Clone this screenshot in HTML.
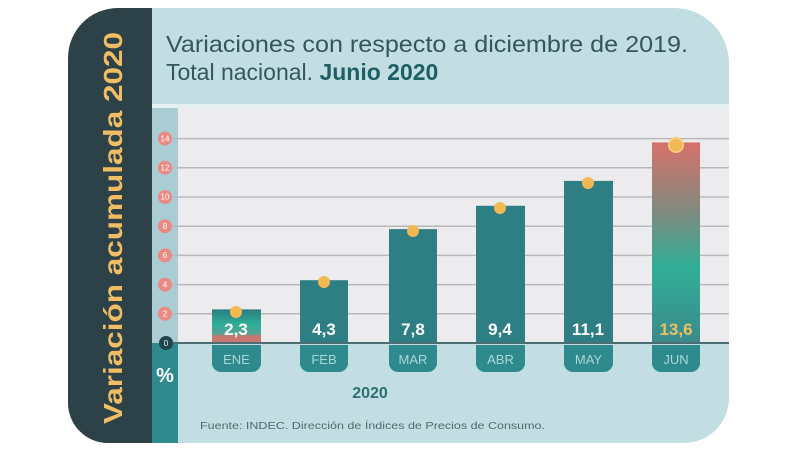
<!DOCTYPE html>
<html><head><meta charset="utf-8"><style>
html,body{margin:0;padding:0;background:#fff;}
svg{display:block;font-family:"Liberation Sans",sans-serif;}
</style></head><body>
<svg width="800" height="454" viewBox="0 0 800 454" xmlns="http://www.w3.org/2000/svg">
<defs>
<linearGradient id="gj" x1="0" y1="0" x2="0" y2="1">
<stop offset="0" stop-color="#d8716a"/>
<stop offset="0.35" stop-color="#7f8a80"/>
<stop offset="0.62" stop-color="#2fae96"/>
<stop offset="1" stop-color="#3c8a8c"/>
</linearGradient>
<linearGradient id="ge" x1="0" y1="0" x2="0" y2="1">
<stop offset="0" stop-color="#2a7d80"/>
<stop offset="0.45" stop-color="#2fae96"/>
<stop offset="0.75" stop-color="#5aa095"/>
<stop offset="0.78" stop-color="#c87870"/>
<stop offset="1" stop-color="#c87870"/>
</linearGradient>
</defs>
<path d="M140 8 H674 A55 55 0 0 1 729 63 V398 A45 45 0 0 1 684 443 H140 Z" fill="#c3dee2"/>
<rect x="152" y="108" width="577" height="235" fill="#ececee"/>
<rect x="152" y="104" width="577" height="4" fill="#e4eff1"/>
<rect x="152" y="108" width="26" height="235" fill="#a9cdd2"/>
<rect x="152" y="343" width="26" height="100" fill="#2e8a8c"/>
<path d="M118 8 H152 V443 H108 A40 40 0 0 1 68 403 V58 A50 50 0 0 1 118 8 Z" fill="#2c4148"/>
<text transform="translate(122,228) rotate(-90)" text-anchor="middle" font-size="26" font-weight="bold" fill="#f0bd64" textLength="392" lengthAdjust="spacingAndGlyphs">Variación acumulada 2020</text>
<text x="166" y="52" font-size="23" fill="#33575e" textLength="522" lengthAdjust="spacingAndGlyphs">Variaciones con respecto a diciembre de 2019.</text>
<text x="166" y="80" font-size="23" fill="#33575e">Total nacional. <tspan font-weight="bold" fill="#1e5f66">Junio 2020</tspan></text>
<g stroke="#b9b9bd" stroke-width="1.5">
<line x1="170" x2="729" y1="313.8" y2="313.8"/>
<line x1="170" x2="729" y1="284.6" y2="284.6"/>
<line x1="170" x2="729" y1="255.4" y2="255.4"/>
<line x1="170" x2="729" y1="226.2" y2="226.2"/>
<line x1="170" x2="729" y1="197" y2="197"/>
<line x1="170" x2="729" y1="167.8" y2="167.8"/>
<line x1="170" x2="729" y1="138.6" y2="138.6"/>
</g>
<g font-size="8" fill="#fff" text-anchor="middle">
<circle cx="165" cy="313.8" r="7" fill="#e98a85"/><text x="165" y="316.5">2</text>
<circle cx="165" cy="284.6" r="7" fill="#e98a85"/><text x="165" y="287.3">4</text>
<circle cx="165" cy="255.4" r="7" fill="#e98a85"/><text x="165" y="258.1">6</text>
<circle cx="165" cy="226.2" r="7" fill="#e98a85"/><text x="165" y="228.9">8</text>
<circle cx="165" cy="197" r="7" fill="#e98a85"/><text x="165" y="199.7">10</text>
<circle cx="165" cy="167.8" r="7" fill="#e98a85"/><text x="165" y="170.5">12</text>
<circle cx="165" cy="138.6" r="7" fill="#e98a85"/><text x="165" y="141.3">14</text>
</g>
<rect x="212" y="309.4" width="49" height="33.6" fill="url(#ge)"/>
<rect x="300" y="280.2" width="48" height="62.8" fill="#2e7f84"/>
<rect x="389" y="229.1" width="48" height="113.9" fill="#2e7f84"/>
<rect x="476" y="205.8" width="49" height="137.2" fill="#2e7f84"/>
<rect x="564" y="180.9" width="49" height="162.1" fill="#2e7f84"/>
<rect x="652" y="142.4" width="48" height="200.6" fill="url(#gj)"/>
<line x1="166" x2="729" y1="343" y2="343" stroke="#4c6d72" stroke-width="2"/>
<circle cx="166" cy="343" r="7" fill="#21454d"/>
<text x="166" y="346" font-size="8" fill="#cfe" text-anchor="middle">0</text>
<text x="165" y="382" font-size="20" font-weight="bold" fill="#fff" text-anchor="middle">%</text>
<g fill="#f2b852">
<circle cx="236" cy="312" r="6"/>
<circle cx="324" cy="282" r="6"/>
<circle cx="413" cy="231" r="6"/>
<circle cx="500" cy="208" r="6"/>
<circle cx="588" cy="183" r="6"/>
<circle cx="676" cy="145" r="7" stroke="#f7cf7e" stroke-width="2"/>
</g>
<g font-size="17" font-weight="bold" fill="#fff" text-anchor="middle">
<text x="236" y="335">2,3</text>
<text x="324" y="335">4,3</text>
<text x="413" y="335">7,8</text>
<text x="500" y="335">9,4</text>
<text x="588" y="335">11,1</text>
<text x="676" y="335" fill="#ebc25e">13,6</text>
</g>
<g fill="#2e8a8c">
<path d="M212 345 H261 V363 A9 9 0 0 1 252 372 H221 A9 9 0 0 1 212 363 Z"/>
<path d="M300 345 H348 V363 A9 9 0 0 1 339 372 H309 A9 9 0 0 1 300 363 Z"/>
<path d="M389 345 H437 V363 A9 9 0 0 1 428 372 H398 A9 9 0 0 1 389 363 Z"/>
<path d="M476 345 H525 V363 A9 9 0 0 1 516 372 H485 A9 9 0 0 1 476 363 Z"/>
<path d="M564 345 H613 V363 A9 9 0 0 1 604 372 H573 A9 9 0 0 1 564 363 Z"/>
<path d="M652 345 H700 V363 A9 9 0 0 1 691 372 H661 A9 9 0 0 1 652 363 Z"/>
</g>
<g font-size="13" fill="#a8d8da" text-anchor="middle">
<text x="236.5" y="364">ENE</text>
<text x="324" y="364">FEB</text>
<text x="413" y="364">MAR</text>
<text x="500.5" y="364">ABR</text>
<text x="588.5" y="364">MAY</text>
<text x="676" y="364">JUN</text>
</g>
<text x="370" y="398" font-size="16" font-weight="bold" fill="#2e6f74" text-anchor="middle">2020</text>
<text x="200" y="429" font-size="10.5" fill="#4d6c70" textLength="345" lengthAdjust="spacingAndGlyphs">Fuente: INDEC. Dirección de Índices de Precios de Consumo.</text>
</svg>
</body></html>
